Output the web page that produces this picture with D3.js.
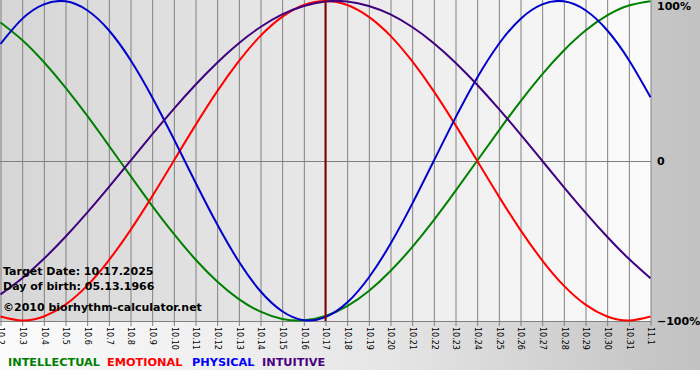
<!DOCTYPE html>
<html>
<head>
<meta charset="utf-8">
<script src="https://cdn.jsdelivr.net/npm/d3@7"></script>
<style>
  body { margin: 0; background: #fff; }
  svg { display: block; font-family: "DejaVu Sans", Verdana, sans-serif; }
</style>
</head>
<body>
<svg width="700" height="380"></svg>
<script>
// days shown on the x axis
const days = ["10.2","10.3","10.4","10.5","10.6","10.7","10.8","10.9","10.10","10.11",
  "10.12","10.13","10.14","10.15","10.16","10.17","10.18","10.19","10.20","10.21",
  "10.22","10.23","10.24","10.25","10.26","10.27","10.28","10.29","10.30","10.31","11.1"];

// cycle values, -1 .. 1, one per day
const intellectual = [0.866,0.756,0.618,0.458,0.282,0.095,-0.095,-0.282,-0.458,-0.618,
  -0.756,-0.866,-0.945,-0.990,-0.999,-0.972,-0.910,-0.815,-0.690,-0.541,
  -0.372,-0.189,0.000,0.189,0.372,0.541,0.690,0.815,0.910,0.972,0.999];
const emotional = [-0.975,-1.000,-0.975,-0.901,-0.782,-0.623,-0.434,-0.223,0.000,0.223,
  0.434,0.623,0.782,0.901,0.975,1.000,0.975,0.901,0.782,0.623,
  0.434,0.223,0.000,-0.223,-0.434,-0.623,-0.782,-0.901,-0.975,-1.000,-0.975];
const physical = [0.731,0.888,0.979,0.998,0.942,0.817,0.631,0.398,0.136,-0.136,
  -0.398,-0.631,-0.817,-0.942,-0.998,-0.979,-0.888,-0.731,-0.520,-0.270,
  0.000,0.270,0.520,0.731,0.888,0.979,0.998,0.942,0.817,0.631,0.398];
const intuitive = [-0.837,-0.736,-0.614,-0.476,-0.325,-0.165,0.000,0.165,0.325,0.476,
  0.614,0.736,0.837,0.916,0.969,0.997,0.997,0.969,0.916,0.837,
  0.736,0.614,0.476,0.325,0.165,0.000,-0.165,-0.325,-0.476,-0.614,-0.736];

const seriesNames = ["INTELLECTUAL","EMOTIONAL","PHYSICAL","INTUITIVE"];
const yTicks = [1, 0, -1];
const targetDay = "10.17";
const infoLines = ["Target Date: 10.17.2025", "Day of birth: 05.13.1966", "\u00a92010 biorhythm-calculator.net"];

const colors = ["#008000", "#ff0000", "#0000cc", "#400080"];
const legendColors = ["#008000", "#ff0000", "#0000ff", "#4b0082"];

const svg = d3.select("svg");
const plotW = 651, plotH = 321;

const defs = svg.append("defs");
const bg = defs.append("linearGradient").attr("id", "bg");
bg.append("stop").attr("offset", "0").attr("stop-color", "#fbfbfb");
bg.append("stop").attr("offset", "0.55").attr("stop-color", "#e6e6e6");
bg.append("stop").attr("offset", "0.93").attr("stop-color", "#c6c6c6");
bg.append("stop").attr("offset", "1").attr("stop-color", "#c2c2c2");
const pg = defs.append("linearGradient").attr("id", "pg");
pg.append("stop").attr("offset", "0").attr("stop-color", "#d6d6d6");
pg.append("stop").attr("offset", "1").attr("stop-color", "#fbfbfb");

svg.append("rect").attr("width", 700).attr("height", 370).attr("fill", "url(#bg)");
svg.append("rect").attr("width", plotW).attr("height", plotH).attr("fill", "url(#pg)");

const x = d3.scalePoint().domain(days).range([0.5, plotW - 0.5]);
const y = d3.scaleLinear().domain([-1, 1]).range([plotH - 0.5, 1]);

// vertical grid + day labels
const xAxis = svg.append("g")
  .attr("transform", `translate(0,${plotH})`)
  .call(d3.axisBottom(x).tickSize(-plotH).tickPadding(0));
xAxis.select(".domain").remove();
xAxis.selectAll(".tick line").attr("stroke", "#808080").attr("y2", -plotH).attr("y1", 5);
xAxis.selectAll(".tick text")
  .attr("transform", "rotate(90)")
  .attr("x", 6).attr("y", 0).attr("dy", "0.35em")
  .attr("text-anchor", "start")
  .attr("font-size", "8px")
  .attr("font-family", "DejaVu Sans, Verdana, sans-serif")
  .attr("fill", "#000");

// horizontal lines at 0 and -100%
svg.append("g").selectAll("line").data([0, -1]).join("line")
  .attr("x1", 0).attr("x2", plotW)
  .attr("y1", d => Math.round(y(d)) + 0.5).attr("y2", d => Math.round(y(d)) + 0.5)
  .attr("stroke", "#808080");

// right axis labels
const yAxis = svg.append("g")
  .attr("transform", `translate(${plotW},0)`)
  .call(d3.axisRight(y).tickValues(yTicks).tickSize(0).tickPadding(6)
    .tickFormat(d => d === 0 ? "0" : d3.format(".0%")(d)));
yAxis.select(".domain").remove();
yAxis.selectAll(".tick text")
  .attr("font-size", "11px").attr("font-weight", "bold")
  .attr("font-family", "DejaVu Sans, Verdana, sans-serif")
  .attr("fill", "#000")
  .attr("dy", d => d === 1 ? "0.75em" : "0.35em");

// curves
const line = d3.line()
  .x((d, i) => x(days[i]))
  .y(d => y(d))
  .curve(d3.curveNatural);

[intellectual, emotional, physical, intuitive].forEach((s, i) => {
  svg.append("path")
    .datum(s)
    .attr("d", line)
    .attr("fill", "none")
    .attr("stroke", colors[i])
    .attr("stroke-width", 2);
});

// target day marker
svg.append("line")
  .attr("x1", x(targetDay)).attr("x2", x(targetDay))
  .attr("y1", 0).attr("y2", plotH)
  .attr("stroke", "#800000").attr("stroke-width", 2);

// info text
svg.append("g").selectAll("text").data(infoLines).join("text")
  .attr("x", 3)
  .attr("y", (d, i) => [275, 290, 311][i])
  .attr("font-size", "11px").attr("font-weight", "bold")
  .attr("fill", "#000")
  .text(d => d);

// legend
const legendX = [8, 107, 192, 262];
svg.append("g").selectAll("text").data(seriesNames).join("text")
  .attr("x", (d, i) => legendX[i])
  .attr("y", 366)
  .attr("font-size", "11.3px").attr("font-weight", "bold")
  .attr("fill", (d, i) => legendColors[i])
  .text(d => d);
</script>
</body>
</html>
